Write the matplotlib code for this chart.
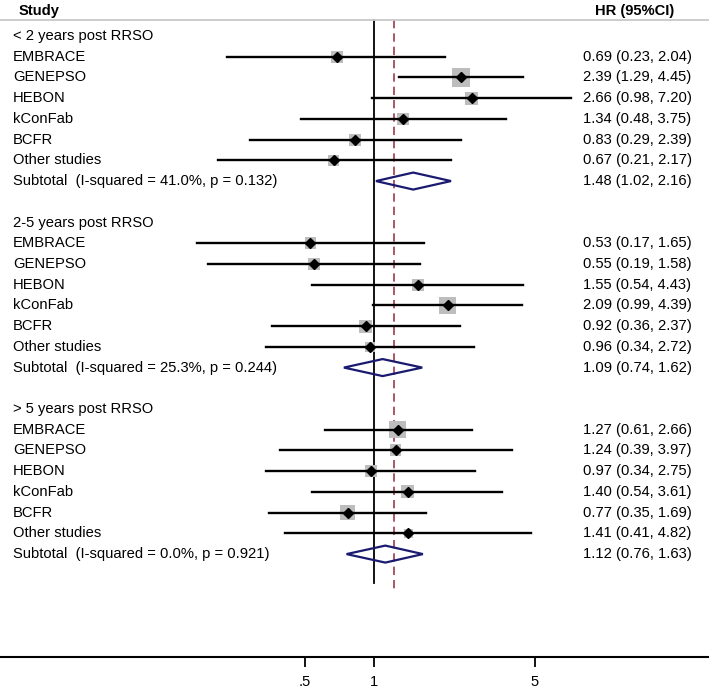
import numpy as np
import matplotlib.pyplot as plt
from matplotlib.patches import Polygon
from matplotlib.ticker import NullLocator

plt.rcParams['font.family'] = ['Liberation Sans', 'DejaVu Sans']

# subgroup headings and study names
groups = ['< 2 years post RRSO', '2-5 years post RRSO', '> 5 years post RRSO']
studies = ['EMBRACE', 'GENEPSO', 'HEBON', 'kConFab', 'BCFR', 'Other studies']

# hazard ratios with 95% CI per subgroup
hr_lt2 = [0.69, 2.39, 2.66, 1.34, 0.83, 0.67]
lo_lt2 = [0.23, 1.29, 0.98, 0.48, 0.29, 0.21]
hi_lt2 = [2.04, 4.45, 7.20, 3.75, 2.39, 2.17]
wt_lt2 = [9.3, 22.0, 11.0, 9.0, 9.3, 8.0]

hr_2to5 = [0.53, 0.55, 1.55, 2.09, 0.92, 0.96]
lo_2to5 = [0.17, 0.19, 0.54, 0.99, 0.36, 0.34]
hi_2to5 = [1.65, 1.58, 4.43, 4.39, 2.37, 2.72]
wt_2to5 = [9.3, 9.3, 9.3, 18.7, 11.0, 6.5]

hr_gt5 = [1.27, 1.24, 0.97, 1.40, 0.77, 1.41]
lo_gt5 = [0.61, 0.39, 0.34, 0.54, 0.35, 0.41]
hi_gt5 = [2.66, 3.97, 2.75, 3.61, 1.69, 4.82]
wt_gt5 = [18.7, 9.3, 9.3, 11.0, 14.6, 5.2]

# subtotals (pooled estimates)
sub_hr = [1.48, 1.09, 1.12]
sub_lo = [1.02, 0.74, 0.76]
sub_hi = [2.16, 1.62, 1.63]
i_sq = [41.0, 25.3, 0.0]
p_het = [0.132, 0.244, 0.921]

overall_hr = 1.22

hr_all = [hr_lt2, hr_2to5, hr_gt5]
lo_all = [lo_lt2, lo_2to5, lo_gt5]
hi_all = [hi_lt2, hi_2to5, hi_gt5]
wt_all = [wt_lt2, wt_2to5, wt_gt5]

fig = plt.figure(figsize=(7.09, 6.89), dpi=100)
ax = fig.add_axes([0, 0, 1, 1])
ax.set_xscale('log')
ax.set_xlim(0.02377, 28.49)
ax.set_ylim(31.51, -1.737)

trans = ax.get_yaxis_transform()  # x in axes coords, y in rows
fs = 10.6
left_x = 13 / 709
right_x = 583 / 709

# header
ax.text(19 / 709, -1.22, 'Study', transform=trans, fontsize=fs, fontweight='bold', va='center')
ax.text(595 / 709, -1.22, 'HR (95%CI)', transform=trans, fontsize=fs, fontweight='bold', va='center')
ax.plot([0, 1], [-0.77, -0.77], transform=trans, color='#c8c8c8', lw=1.3, clip_on=False)

row = 0
for g in range(3):
    ax.text(left_x, row, groups[g], transform=trans, fontsize=fs, va='center')
    row += 1
    for i, name in enumerate(studies):
        hr, lo, hi, w = hr_all[g][i], lo_all[g][i], hi_all[g][i], wt_all[g][i]
        ax.text(left_x, row, name, transform=trans, fontsize=fs, va='center')
        ax.text(right_x, row, f'{hr:.2f} ({lo:.2f}, {hi:.2f})', transform=trans,
                fontsize=fs, va='center')
        side_pt = 3.93 * np.sqrt(w) * 0.72
        ax.scatter([hr], [row], s=side_pt ** 2, marker='s', color='#bdbdbd',
                   edgecolors='none', zorder=2)
        ax.plot([lo, hi], [row, row], color='black', lw=1.7, zorder=3)
        ax.plot([hr], [row], marker='D', color='black', markersize=4.8, zorder=4)
        row += 1
    ax.text(left_x, row, f'Subtotal  (I-squared = {i_sq[g]:.1f}%, p = {p_het[g]:.3f})',
            transform=trans, fontsize=fs, va='center')
    ax.text(right_x, row, f'{sub_hr[g]:.2f} ({sub_lo[g]:.2f}, {sub_hi[g]:.2f})',
            transform=trans, fontsize=fs, va='center')
    h = 0.41
    dia = Polygon([(sub_lo[g], row), (sub_hr[g], row - h), (sub_hi[g], row), (sub_hr[g], row + h)],
                  closed=True, fill=False, edgecolor='#1a1a70', lw=1.6, zorder=5)
    ax.add_patch(dia)
    row += 2

# reference lines
ax.plot([1, 1], [-0.77, 26.4], color='black', lw=1.3, zorder=1)
ax.plot([overall_hr, overall_hr], [-0.77, 26.8], color='#9e3a4a', lw=1.2,
        dashes=(5, 3), zorder=1)

# x axis
for s in ['top', 'left', 'right']:
    ax.spines[s].set_visible(False)
ax.spines['bottom'].set_position(('data', 29.97))
ax.spines['bottom'].set_linewidth(1.5)
ax.set_xticks([0.5, 1, 5])
ax.set_xticklabels(['.5', '1', '5'])
ax.xaxis.set_minor_locator(NullLocator())
ax.tick_params(axis='x', direction='out', length=7, width=1.3, labelsize=10.6, pad=6)
ax.set_yticks([])

fig.savefig('out.png', dpi=100)
